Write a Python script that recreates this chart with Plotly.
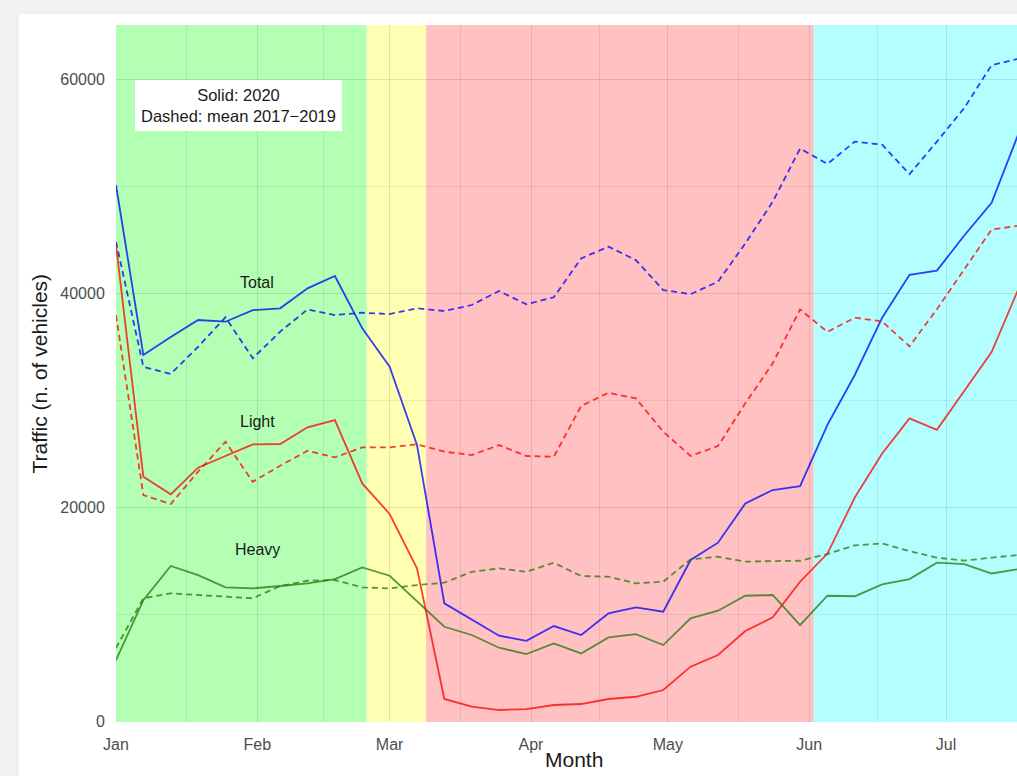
import plotly.graph_objects as go

# ---- data (weekly points, 2020) ----
dates = ["2020-01-01", "2020-01-07", "2020-01-13", "2020-01-19", "2020-01-25", "2020-01-31",
         "2020-02-06", "2020-02-12", "2020-02-18", "2020-02-24", "2020-03-01", "2020-03-07",
         "2020-03-13", "2020-03-19", "2020-03-25", "2020-03-31", "2020-04-06", "2020-04-12",
         "2020-04-18", "2020-04-24", "2020-04-30", "2020-05-06", "2020-05-12", "2020-05-18",
         "2020-05-24", "2020-05-30", "2020-06-05", "2020-06-11", "2020-06-17", "2020-06-23",
         "2020-06-29", "2020-07-05", "2020-07-11", "2020-07-17"]

total_2020 = [50100, 34200, 35900, 37480, 37320, 38400, 38570, 40440, 41590, 36700, 33110, 25800,
              11000, 9500, 7970, 7500, 8880, 8040, 10060, 10620, 10220, 15050, 16670, 20340,
              21590, 21960, 27680, 32340, 37700, 41700, 42090, 45380, 48430, 55000]
total_mean = [44800, 33110, 32430, 34980, 37730, 33900, 36390, 38470, 37940, 38160, 38040, 38570,
              38320, 38880, 40190, 38940, 39600, 43240, 44330, 43080, 40280, 39900, 41060, 44640,
              48530, 53500, 52070, 54150, 53860, 51110, 54150, 57290, 61300, 61900]
light_2020 = [44500, 22830, 21190, 23680, 24770, 25860, 25890, 27450, 28130, 22210, 19350, 14270,
              2060, 1340, 1030, 1120, 1500, 1590, 2060, 2270, 2900, 5080, 6170, 8410,
              9690, 13020, 15650, 20890, 25000, 28290, 27220, 30830, 34480, 40500]
light_mean = [37940, 21120, 20280, 23300, 26100, 22360, 23860, 25260, 24640, 25580, 25580, 25860,
              25170, 24860, 25790, 24770, 24700, 29440, 30680, 30150, 27040, 24770, 25700, 29690,
              33430, 38470, 36370, 37700, 37340, 35020, 38490, 42170, 45930, 46300]
heavy_2020 = [5700, 11300, 14490, 13640, 12490, 12400, 12620, 12870, 13270, 14360, 13580, 11240,
              8810, 8040, 6850, 6260, 7260, 6320, 7820, 8130, 7100, 9600, 10310, 11710,
              11780, 8970, 11710, 11660, 12770, 13270, 14800, 14660, 13790, 14200]
heavy_mean = [6820, 11470, 11930, 11780, 11680, 11470, 12620, 13110, 13180, 12490, 12400, 12710,
              12930, 13950, 14270, 13950, 14800, 13550, 13490, 12870, 13020, 15110, 15360, 14890,
              14950, 14980, 15610, 16420, 16600, 15880, 15270, 14990, 15270, 15520]

# phases (shaded periods)
phase_starts = ["2020-01-01", "2020-02-25", "2020-03-09", "2020-06-02"]
phase_ends = ["2020-02-25", "2020-03-09", "2020-06-02", "2020-08-15"]
phase_colors = ["#b3ffb3", "#ffffb3", "#ffc1c1", "#b3ffff"]

month_ticks = ["2020-01-01", "2020-02-01", "2020-03-01", "2020-04-01", "2020-05-01", "2020-06-01", "2020-07-01"]
month_labels = ["Jan", "Feb", "Mar", "Apr", "May", "Jun", "Jul"]
minor_ticks = ["2020-01-16 12:00", "2020-02-15 12:00", "2020-03-16 12:00", "2020-04-16",
               "2020-05-16 12:00", "2020-06-16", "2020-07-16 12:00"]

y_ticks = [0, 20000, 40000, 60000]
y_minor = [10000, 30000, 50000]

series_labels = ["Total", "Light", "Heavy"]
label_y = [41000, 28000, 16000]

FONT = "Liberation Sans, Arial, Helvetica, sans-serif"

fig = go.Figure()

lw = 1.8
for vals, col, dash in [
    (total_2020, "rgba(0,0,255,0.76)", "solid"), (total_mean, "rgba(0,0,255,0.76)", "6px,4px"),
    (light_2020, "rgba(255,0,0,0.76)", "solid"), (light_mean, "rgba(255,0,0,0.76)", "6px,4px"),
    (heavy_2020, "rgba(42,122,16,0.78)", "solid"), (heavy_mean, "rgba(42,122,16,0.78)", "6px,4px"),
]:
    fig.add_trace(go.Scatter(x=dates, y=vals, mode="lines",
                             line=dict(color=col, width=lw, dash=dash),
                             showlegend=False, hoverinfo="skip"))

# white card behind the chart
fig.add_shape(type="rect", xref="paper", yref="paper",
              x0=-0.1077, x1=1.05, y0=-0.2, y1=1.0158,
              fillcolor="white", line=dict(width=0), layer="below")

# phase rectangles (below grid lines)
for x0, x1, c in zip(phase_starts, phase_ends, phase_colors):
    fig.add_shape(type="rect", xref="x", yref="paper", x0=x0, x1=x1, y0=0, y1=1,
                  fillcolor=c, line=dict(width=0), layer="below")

# series labels
for t, yv in zip(series_labels, label_y):
    fig.add_annotation(x="2020-02-01", y=yv, text=t, showarrow=False,
                       font=dict(family=FONT, size=16, color="#1a1a1a"))

# legend-like label
fig.add_annotation(x="2020-01-27 19:00", y=57500,
                   text="Solid: 2020<br>Dashed: mean 2017\u22122019",
                   showarrow=False, bgcolor="white", borderpad=6, borderwidth=0,
                   font=dict(family=FONT, size=16.5, color="#1a1a1a"))

# axis titles
fig.add_annotation(xref="paper", yref="paper", x=0.5083, y=-0.0545, text="Month",
                   showarrow=False, xanchor="center", yanchor="middle",
                   font=dict(family=FONT, size=21, color="#1a1a1a"))
fig.add_annotation(xref="paper", yref="paper", x=-0.0844, y=0.5, text="Traffic (n. of vehicles)",
                   showarrow=False, textangle=-90, xanchor="center", yanchor="middle",
                   font=dict(family=FONT, size=21, color="#1a1a1a"))

grid_major = "rgba(0,0,0,0.10)"
grid_minor = "rgba(0,0,0,0.07)"
fig.update_xaxes(type="date", range=["2020-01-01", "2020-07-16 13:40"],
                 tickmode="array", tickvals=month_ticks, ticktext=month_labels,
                 showgrid=True, gridcolor=grid_major, gridwidth=1.2,
                 minor=dict(tickmode="array", tickvals=minor_ticks, showgrid=True,
                            gridcolor=grid_minor, gridwidth=0.8),
                 ticks="outside", ticklen=8, tickcolor="rgba(0,0,0,0)",
                 zeroline=False, showline=False, automargin=False,
                 tickfont=dict(family=FONT, size=16, color="#4d4d4d"))
fig.update_yaxes(range=[-90, 65050], tickmode="array", tickvals=y_ticks,
                 ticktext=[str(v) for v in y_ticks],
                 showgrid=True, gridcolor=grid_major, gridwidth=1.2,
                 minor=dict(tickmode="array", tickvals=y_minor, showgrid=True,
                            gridcolor=grid_minor, gridwidth=0.8),
                 ticks="outside", ticklen=7, tickcolor="rgba(0,0,0,0)",
                 zeroline=False, showline=False, automargin=False,
                 tickfont=dict(family=FONT, size=16, color="#4d4d4d"))

fig.update_layout(width=1017, height=776,
                  margin=dict(l=116, r=0, t=25, b=54),
                  paper_bgcolor="#f1f1f1", plot_bgcolor="white",
                  font=dict(family=FONT),
                  showlegend=False)

fig.write_html("out.html",
               config={"displayModeBar": False},
               post_script="document.body.style.margin='0px';"
                           "document.body.style.overflow='hidden';"
                           "document.body.style.background='#f1f1f1';")
